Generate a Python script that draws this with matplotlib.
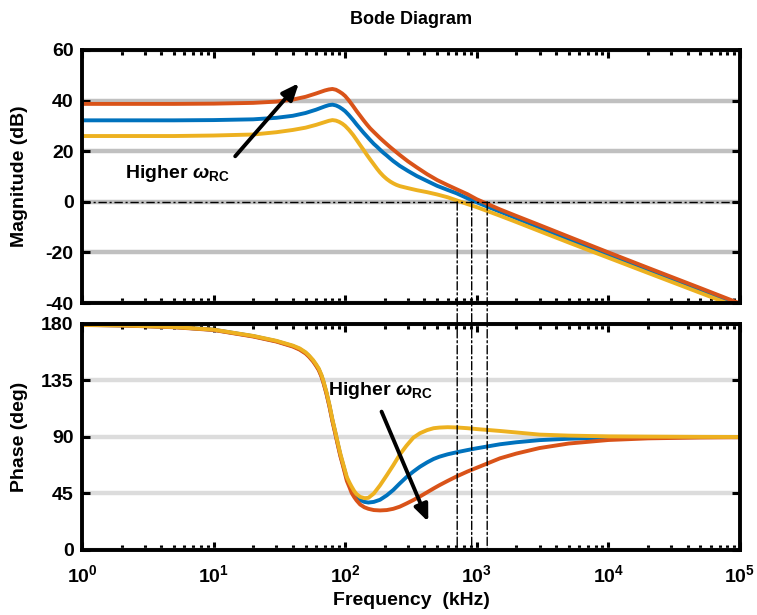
import numpy as np
import matplotlib
matplotlib.use("Agg")
import matplotlib.pyplot as plt
from matplotlib.patches import ConnectionPatch
from matplotlib.ticker import LogLocator, NullFormatter

plt.rcParams['font.family'] = ['Liberation Sans', 'DejaVu Sans']
plt.rcParams['font.weight'] = 'bold'
plt.rcParams['mathtext.fontset'] = 'custom'
plt.rcParams['mathtext.rm'] = 'Liberation Sans:bold'
plt.rcParams['mathtext.it'] = 'Liberation Sans:italic'
plt.rcParams['mathtext.bf'] = 'Liberation Sans:bold'

# Амплитуда (дБ) для трёх значений omega_RC
freq_mag = [1, 5, 10, 20, 30, 40, 50, 60, 70, 75, 80, 85, 90, 95, 100, 107,
            115, 122, 130, 138, 146, 155, 165, 175, 184, 195, 207, 220, 232,
            245, 260, 300, 350, 420, 500, 600, 700, 850, 1000, 1500, 2000,
            3000, 5000, 1e4, 2e4, 5e4, 1e5]
mag_blue = [32.2, 32.2, 32.3, 32.6, 33.2, 34.0, 35.1, 36.4, 37.7, 38.2, 38.4,
            38.1, 37.5, 36.7, 35.8, 34.2, 32.3, 30.6, 28.9, 27.3, 25.9, 24.4,
            22.9, 21.7, 20.6, 19.4, 18.3, 17.1, 16.1, 15.2, 14.2, 12.2, 10.2,
            8.2, 6.3, 4.7, 3.4, 1.4, -0.2, -3.9, -6.5, -10.2, -14.8, -21.0,
            -27.0, -35.0, -41.0]
mag_orange = [38.7, 38.7, 38.8, 39.1, 39.6, 40.4, 41.5, 42.8, 44.0, 44.4, 44.6,
              44.3, 43.6, 42.8, 41.8, 40.0, 37.8, 35.9, 34.0, 32.2, 30.6, 29.0,
              27.6, 26.3, 25.2, 24.0, 22.8, 21.6, 20.6, 19.6, 18.5, 16.0, 13.6,
              10.9, 8.6, 6.6, 5.0, 3.0, 1.0, -3.0, -5.6, -9.2, -13.8, -20.0,
              -26.1, -34.1, -40.2]
mag_yellow = [26.0, 26.0, 26.2, 26.6, 27.5, 28.4, 29.3, 30.4, 31.5, 32.0, 32.3,
              32.1, 31.6, 30.9, 30.0, 28.4, 26.4, 24.5, 22.4, 20.5, 18.6, 16.7,
              14.8, 13.0, 11.6, 10.2, 9.0, 8.0, 7.3, 6.7, 6.2, 5.4, 4.6, 3.8,
              2.9, 1.8, 0.6, -0.9, -2.1, -5.5, -8.0, -11.6, -16.1, -22.1, -28.1,
              -36.0, -42.0]

# Фаза (град)
freq_ph = [1, 2, 5, 10, 20, 30, 40, 45, 50, 53, 57, 60, 63, 66, 68, 72, 76, 80,
           84, 88, 92, 96, 103, 108, 112, 117, 122, 130, 140, 150, 165, 184,
           207, 232, 260, 292, 330, 370, 420, 470, 520, 600, 700, 850, 1000,
           1500, 2000, 3000, 5000, 1e4, 2e4, 5e4, 1e5]
ph_yellow = [179.3, 178.9, 177.6, 175.5, 170.5, 166.6, 162.8, 160.6, 157.5,
             155.0, 151.3, 148.0, 144.5, 139.5, 135.4, 126.0, 115.5, 104.0,
             94.5, 85.0, 76.5, 69.5, 58.0, 53.5, 50.4, 47.0, 44.5, 42.3, 41.3,
             41.5, 45.0, 51.5, 59.5, 67.5, 76.0, 83.0, 89.5, 93.0, 95.5, 97.0,
             97.5, 97.8, 97.6, 97.0, 96.3, 94.8, 93.6, 91.9, 91.1, 90.5, 90.3,
             90.1, 90.0]
ph_blue = [179.3, 178.9, 177.6, 175.4, 170.3, 166.3, 162.4, 160.1, 157.0,
           154.5, 150.7, 147.4, 143.8, 138.8, 134.6, 125.2, 114.7, 103.2, 93.7,
           84.2, 75.5, 68.5, 56.8, 51.8, 48.5, 44.8, 42.0, 39.8, 38.3, 37.8,
           38.3, 40.0, 43.5, 47.8, 53.0, 58.0, 62.5, 66.3, 69.8, 72.5, 74.3,
           76.2, 77.8, 79.6, 81.0, 84.2, 85.8, 87.5, 88.6, 89.4, 89.8, 89.9,
           90.0]
ph_orange = [179.2, 178.8, 177.4, 175.2, 170.0, 166.0, 162.0, 159.6, 156.5,
             154.0, 150.2, 146.8, 143.2, 138.2, 134.0, 124.6, 114.0, 102.5,
             92.9, 83.4, 74.6, 67.5, 55.0, 49.8, 45.5, 42.2, 39.5, 36.2, 34.0,
             32.8, 31.8, 31.5, 31.8, 32.8, 34.5, 37.0, 39.8, 42.6, 46.0, 49.0,
             51.6, 55.0, 58.5, 62.5, 65.5, 73.0, 76.8, 81.2, 84.8, 87.6, 88.9,
             89.6, 89.8]

# Частоты среза (пересечение 0 дБ)
crossover = [710, 915, 1200]

c_blue, c_orange, c_yellow = '#0072BD', '#D95319', '#EDB120'
dashdot = (0, (6, 2, 1.5, 2))
arrow_style = dict(arrowstyle='-|>,head_length=1.0,head_width=0.42',
                   color='black', lw=2.8, shrinkA=0, shrinkB=0)

fig = plt.figure(figsize=(7.57, 6.15), dpi=100)
ax1 = fig.add_axes([0.1083, 0.5073, 0.8692, 0.4114])
ax2 = fig.add_axes([0.1083, 0.1057, 0.8692, 0.3675])

for ax in (ax1, ax2):
    ax.set_xscale('log')
    ax.set_xlim(1, 1e5)
    for s in ax.spines.values():
        s.set_linewidth(2.8)
    ax.tick_params(which='both', direction='in', top=True, right=True,
                   labelsize=14, width=2.2)
    ax.tick_params(which='major', length=6)
    ax.tick_params(which='minor', length=3.5)
    ax.xaxis.set_minor_locator(LogLocator(base=10, subs=np.arange(2, 10)))
    ax.xaxis.set_minor_formatter(NullFormatter())
    ax.set_axisbelow(True)

# Амплитудная характеристика
ax1.plot(freq_mag, mag_blue, color=c_blue, lw=2.8)
ax1.plot(freq_mag, mag_orange, color=c_orange, lw=2.8)
ax1.plot(freq_mag, mag_yellow, color=c_yellow, lw=2.8)
ax1.axhline(0, color='black', lw=1.0, ls=dashdot, zorder=3)
ax1.set_ylim(-40, 60)
ax1.set_yticks([-40, -20, 0, 20, 40, 60])
ax1.set_yticklabels(['-40', '-20', '0', '20', '40', '60'])
ax1.yaxis.grid(True, color='#c0c0c0', lw=3.2)
ax1.tick_params(axis='x', which='both', labelbottom=False)
ax1.tick_params(axis='y', pad=6)
ax1.set_ylabel('Magnitude (dB)', fontsize=14, fontweight='bold')
ax1.yaxis.set_label_coords(-0.082, 0.5)

ax1.annotate('', xy=(44.5, 46.9), xytext=(14.6, 18.0), arrowprops=arrow_style)
ax1.text(2.12, 11, r'Higher $\omega_{\mathbf{RC}}$', fontsize=14,
         fontweight='bold', va='center', ha='left')

# Фазовая характеристика
ax2.plot(freq_ph, ph_blue, color=c_blue, lw=2.8)
ax2.plot(freq_ph, ph_orange, color=c_orange, lw=2.8)
ax2.plot(freq_ph, ph_yellow, color=c_yellow, lw=2.8)
ax2.set_ylim(0, 180)
ax2.set_yticks([0, 45, 90, 135, 180])
ax2.yaxis.grid(True, color='#dcdcdc', lw=3.2)
ax2.set_xticks([1, 10, 100, 1e3, 1e4, 1e5])
ax2.set_xticklabels([r'$\mathbf{10^{%d}}$' % k for k in range(6)])
ax2.tick_params(axis='x', pad=10)
ax2.tick_params(axis='y', pad=6)
ax2.set_ylabel('Phase (deg)', fontsize=14, fontweight='bold')
ax2.yaxis.set_label_coords(-0.082, 0.5)
ax2.set_xlabel('Frequency  (kHz)', fontsize=14, fontweight='bold')
ax2.xaxis.set_label_coords(0.5, -0.185)

ax2.annotate('', xy=(428, 22.5), xytext=(189, 110.2), arrowprops=arrow_style)
ax2.text(74, 127, r'Higher $\omega_{\mathbf{RC}}$', fontsize=14,
         fontweight='bold', va='center', ha='left')

# Вертикальные линии от частот среза через оба графика
for f in crossover:
    con = ConnectionPatch(xyA=(f, 0), coordsA=ax1.transData,
                          xyB=(f, 0), coordsB=ax2.transData,
                          color='black', lw=1.0, ls=dashdot)
    fig.add_artist(con)

fig.text(0.543, 0.9675, 'Bode Diagram', fontsize=13, fontweight='bold',
         ha='center', va='center')

fig.savefig('out.png', dpi=100)
